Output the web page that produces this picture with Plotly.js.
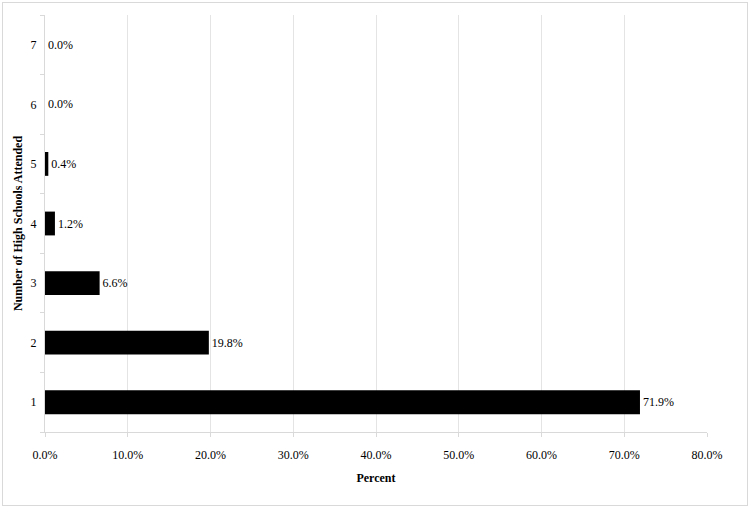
<!DOCTYPE html>
<html>
<head>
<meta charset="utf-8">
<script src="https://cdn.plot.ly/plotly-3.0.1.min.js"></script>
<style>
  body { margin: 0; background: #fff; }
  #chart { position: absolute; left: 2px; top: 2px; width: 744px; height: 502px; border: 1px solid #d9d9d9; }
</style>
</head>
<body>
<div id="chart"></div>
<script>
// number of high schools attended and share of students
var schools = ['1', '2', '3', '4', '5', '6', '7'];
var percent = [71.9, 19.8, 6.6, 1.2, 0.4, 0.0, 0.0];
var tickVals = [0, 10, 20, 30, 40, 50, 60, 70, 80];

var labels = percent.map(function (p) { return p.toFixed(1) + '%'; });
var tickText = tickVals.map(function (v) { return v.toFixed(1) + '%'; });

var serif = 'Liberation Serif, Times New Roman, serif';

var trace = {
    x: percent,
    y: schools,
    type: 'bar',
    orientation: 'h',
    width: 0.4,
    marker: { color: '#000000' },
    text: labels,
    textposition: 'outside',
    cliponaxis: false,
    textfont: { family: serif, size: 12, color: '#000' },
    hoverinfo: 'none'
};

var layout = {
    width: 744,
    height: 502,
    margin: { l: 42, r: 40, t: 12, b: 73 },
    paper_bgcolor: '#fff',
    plot_bgcolor: '#fff',
    showlegend: false,
    font: { family: serif, size: 12, color: '#000' },
    xaxis: {
        range: [0, 80],
        tickvals: tickVals,
        ticktext: tickText,
        showgrid: true,
        gridcolor: '#e4e4e4',
        zeroline: false,
        showline: true,
        linecolor: '#d9d9d9',
        ticks: 'outside',
        ticklen: 4,
        tickcolor: '#d9d9d9',
        ticklabelstandoff: 8,
        title: { text: '<b>Percent</b>', standoff: 12, font: { size: 12 } }
    },
    yaxis: {
        type: 'category',
        range: [-0.5, 6.5],
        showgrid: false,
        zeroline: false,
        showline: true,
        linecolor: '#d9d9d9',
        ticks: 'outside',
        tickson: 'boundaries',
        ticklen: 4,
        tickcolor: '#d9d9d9',
        ticklabelstandoff: 5,
        title: { text: '<b>Number of High Schools Attended</b>', standoff: 5, font: { size: 12 } }
    }
};

Plotly.newPlot('chart', [trace], layout, { displayModeBar: false, staticPlot: true });
</script>
</body>
</html>
